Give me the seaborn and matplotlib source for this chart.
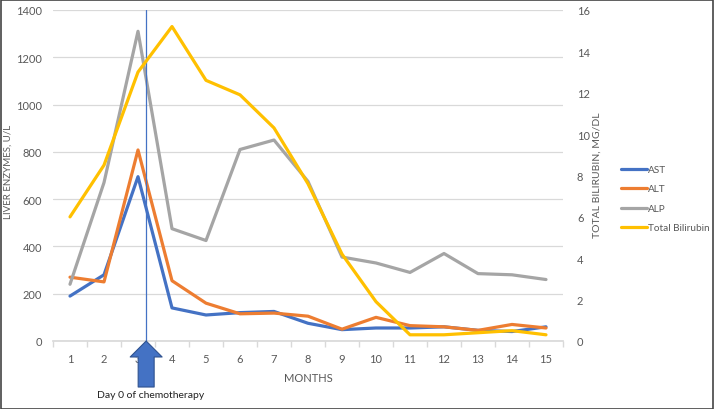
import matplotlib
matplotlib.use("Agg")
import matplotlib.pyplot as plt
import seaborn as sns
import pandas as pd
import numpy as np
from matplotlib.lines import Line2D
from matplotlib.patches import Rectangle

months = list(range(1, 16))
ast = [190, 280, 695, 140, 110, 120, 125, 75, 48, 55, 55, 60, 45, 40, 60]
alt = [270, 250, 808, 255, 160, 115, 118, 105, 50, 100, 65, 60, 45, 70, 55]
alp = [240, 670, 1310, 475, 425, 810, 850, 675, 355, 330, 290, 370, 285, 280, 260]
bili = [6.0, 8.5, 13.0, 15.2, 12.6, 11.9, 10.3, 7.6, 4.2, 1.9, 0.3, 0.3, 0.4, 0.5, 0.3]
chemo_month = 3.24

colors = {"AST": "#4472C4", "ALT": "#ED7D31", "ALP": "#A5A5A5", "Total Bilirubin": "#FFC000"}

sns.set_theme(style="white")
plt.rcParams['font.family'] = ['Lato', 'DejaVu Sans']
tick_color = "#595959"

fig = plt.figure(figsize=(7.14, 4.10), dpi=100)
ax = fig.add_axes([53/714, 1 - 342/410, (563-53)/714, (342-11)/410])
ax2 = ax.twinx()

df = pd.DataFrame({"Month": months * 3,
                   "Value": ast + alt + alp,
                   "Enzyme": ["AST"] * 15 + ["ALT"] * 15 + ["ALP"] * 15})
sns.lineplot(data=df, x="Month", y="Value", hue="Enzyme", palette=colors, ax=ax,
             linewidth=2.3, legend=False, zorder=3)
dfb = pd.DataFrame({"Month": months, "Bili": bili})
sns.lineplot(data=dfb, x="Month", y="Bili", color=colors["Total Bilirubin"], ax=ax2,
             linewidth=2.3, legend=False, zorder=3)

ax.set_xlim(0.5, 15.5)
ax.set_ylim(0, 1400)
ax2.set_ylim(0, 16)
ax.set_yticks(range(0, 1401, 200))
ax2.set_yticks(range(0, 17, 2))
ax.set_xticks(months)
ax.set_xticks(np.arange(0.5, 15.6, 1), minor=True)
ax.grid(axis="y", color="#D9D9D9", linewidth=0.9)
ax.set_axisbelow(True)
for a in (ax, ax2):
    for s in a.spines.values():
        s.set_visible(False)
ax.spines["bottom"].set_visible(True)
ax.spines["bottom"].set_color("#D9D9D9")
ax.tick_params(axis="x", which="major", length=0, colors=tick_color, labelsize=8, pad=9)
ax.tick_params(axis="x", which="minor", length=4, color="#D9D9D9", bottom=True)
ax.tick_params(axis="y", length=0, colors=tick_color, labelsize=8, pad=8)
ax2.tick_params(axis="y", length=0, colors=tick_color, labelsize=8, pad=10)
ax.set_xlabel("MONTHS", color=tick_color, fontsize=8)
ax.xaxis.set_label_coords((308 - 53) / 510, (342 - 373) / 331)
ax.set_ylabel("LIVER ENZYMES, U/L", color=tick_color, fontsize=7)
ax.yaxis.set_label_coords((13 - 53) / 510, (342 - 172) / 331)
ax2.set_ylabel("TOTAL BILIRUBIN, MG/DL", color=tick_color, fontsize=7.5)
ax2.yaxis.set_label_coords((593 - 53) / 510, (342 - 175) / 331)

# chemo line
ax.axvline(chemo_month, color="#4472C4", linewidth=0.9, zorder=4)
# arrow
ax.annotate("", xy=(chemo_month, 0.0), xycoords=("data", "axes fraction"),
            xytext=(chemo_month, -0.139), textcoords=("data", "axes fraction"),
            arrowprops=dict(arrowstyle="simple,head_length=0.5,head_width=1.0,tail_width=0.5",
                            mutation_scale=23, fc="#4472C4", ec="#2F528F", lw=0.8,
                            shrinkA=0, shrinkB=0),
            annotation_clip=False, zorder=6)
ax.text(3.38, -0.163, "Day 0 of chemotherapy", transform=ax.get_xaxis_transform(),
        ha="center", va="center", fontsize=7.5, color="#222222", clip_on=False)

handles = [Line2D([0], [0], color=colors[k], lw=2.3) for k in colors]
fig.legend(handles, list(colors.keys()), loc="upper left", bbox_to_anchor=(618/714, 1 - 163/410),
           frameon=False, fontsize=7.2, handlelength=2.6, handletextpad=0.1, labelspacing=1.05,
           labelcolor=tick_color, borderaxespad=0, borderpad=0.3)

fig.patches.append(Rectangle((0.001, 0.001), 0.997, 0.997, transform=fig.transFigure,
                             fill=False, edgecolor="#444444", linewidth=1.2))

fig.savefig("out.png", dpi=100)
